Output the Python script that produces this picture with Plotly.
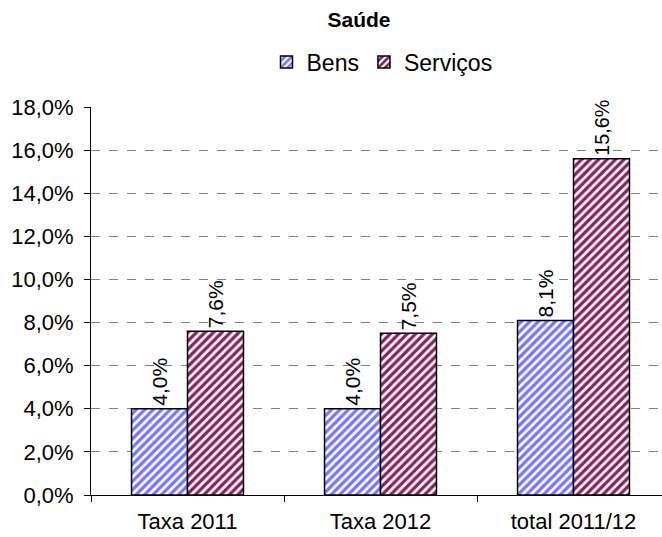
import plotly.graph_objects as go

categories = ["Taxa 2011", "Taxa 2012", "total 2011/12"]
bens = [4.0, 4.0, 8.1]
servicos = [7.6, 7.5, 15.6]
series_names = ["Bens", "Serviços"]
tick_vals = [0, 2, 4, 6, 8, 10, 12, 14, 16, 18]
tick_text = ["0,0%", "2,0%", "4,0%", "6,0%", "8,0%", "10,0%", "12,0%", "14,0%", "16,0%", "18,0%"]

font = "Arial, Liberation Sans, sans-serif"

fig = go.Figure()
for name, vals, fg in [(series_names[0], bens, "#7777FF"), (series_names[1], servicos, "#8A2262")]:
    fig.add_trace(go.Bar(
        name=name, x=categories, y=vals,
        marker=dict(color="white", line=dict(color="black", width=1.5),
                    pattern=dict(shape="/", fgcolor=fg, bgcolor="white", fgopacity=1,
                                 size=6, solidity=0.55)),
        texttemplate="%{y:.1f}%", textposition="outside", textangle=-90,
        textfont=dict(size=21, color="black", family=font),
        cliponaxis=False,
    ))

fig.update_layout(
    width=662, height=537,
    margin=dict(l=91, r=0, t=107, b=42),
    paper_bgcolor="white", plot_bgcolor="white",
    separators=",.",
    barmode="group", bargap=0.42, bargroupgap=0,
    font=dict(family=font, size=21, color="black"),
    title=dict(text="<b>Saúde</b>", x=359/662, xanchor="center", y=1-20/537, yanchor="middle",
               font=dict(size=21, family=font)),
    legend=dict(orientation="h", x=382/662, xanchor="center", y=1-62/537, yanchor="middle",
                xref="container", yref="container", font=dict(size=23), itemwidth=30,
                traceorder="normal"),
    showlegend=True,
)
fig.update_yaxes(range=[0, 18], tickvals=tick_vals, ticktext=tick_text,
                 showline=True, linecolor="black", linewidth=1, ticks="outside", ticklen=6,
                 tickcolor="black", showgrid=True, gridcolor="#808080", griddash="dash",
                 gridwidth=1, zeroline=False, tickfont=dict(size=22), ticklabelstandoff=6)
fig.update_xaxes(range=[-0.5, 2.5 - 8/193], showline=True, linecolor="black", linewidth=1,
                 ticks="outside", tickson="boundaries", ticklen=6, tickcolor="black",
                 tickfont=dict(size=22), ticklabelstandoff=7)

fig.write_html("out.html")
